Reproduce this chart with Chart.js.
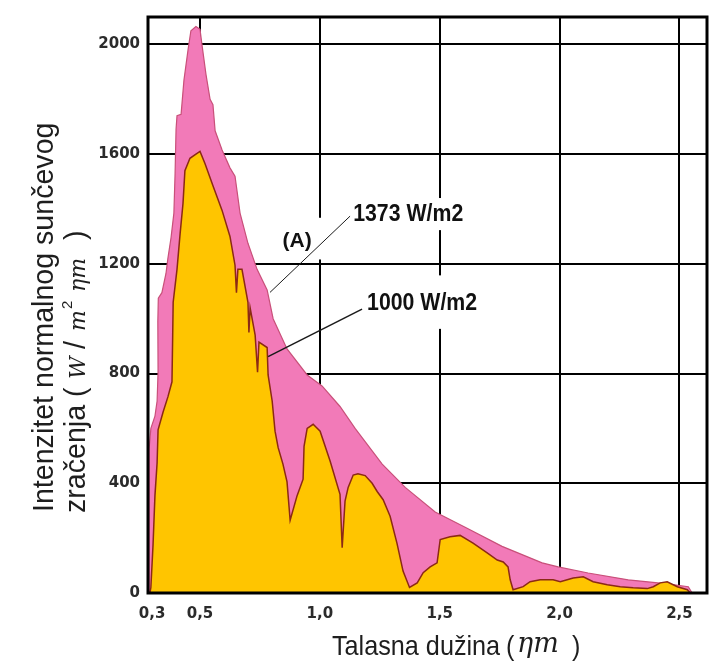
<!DOCTYPE html>
<html>
<head>
<meta charset="utf-8">
<script src="https://cdn.jsdelivr.net/npm/chart.js@4.4.1/dist/chart.umd.min.js"></script>
<style>
  html, body { margin: 0; padding: 0; background: #ffffff; }
  canvas { display: block; }
</style>
</head>
<body>
<canvas id="c" width="711" height="661"></canvas>
<script>
// ---- tick values / labels ----
const xTicks = [0.3, 0.5, 1.0, 1.5, 2.0, 2.5];
const xTickLabels = ['0,3', '0,5', '1,0', '1,5', '2,0', '2,5'];
const yTicks = [0, 400, 800, 1200, 1600, 2000];

// ---- series: extraterrestrial spectrum (1373 W/m2) ----
const extraX = [0.283, 0.287, 0.295, 0.312, 0.321, 0.325, 0.324, 0.326, 0.341, 0.358, 0.366, 0.379, 0.391, 0.396, 0.400, 0.404, 0.421, 0.433, 0.450, 0.462, 0.483, 0.500,
  0.508, 0.525, 0.542, 0.554, 0.563, 0.592, 0.625, 0.646, 0.667, 0.700, 0.738, 0.780, 0.805, 0.863, 0.947, 1.009, 1.084, 1.147, 1.260, 1.356, 1.481, 1.606, 1.760, 1.927, 1.994, 2.119, 2.286, 2.441, 2.537, 2.553];
const extraY = [0, 520, 600, 645, 700, 805, 990, 1075, 1095, 1165, 1220, 1295, 1385, 1530, 1690, 1740, 1745, 1870, 1980, 2050, 2065, 2055,
  2000, 1890, 1800, 1780, 1685, 1615, 1550, 1520, 1385, 1275, 1180, 1105, 1000, 890, 795, 755, 680, 600, 470, 385, 295, 240, 170, 110, 95, 73, 48, 34, 23, 0];

// ---- series: surface spectrum (1000 W/m2) ----
const surfX = [0.291, 0.295, 0.304, 0.312, 0.321, 0.325, 0.346, 0.366, 0.383, 0.386, 0.388, 0.404, 0.417, 0.429, 0.437, 0.458, 0.483, 0.500,
  0.521, 0.554, 0.592, 0.625, 0.646, 0.652, 0.658, 0.675, 0.700, 0.704, 0.709, 0.730, 0.740, 0.746, 0.780, 0.784, 0.801, 0.813, 0.826, 0.846, 0.863, 0.876,
  0.905, 0.930, 0.934, 0.947, 0.972, 1.001, 1.043, 1.084, 1.093, 1.105, 1.118, 1.139, 1.159, 1.189, 1.218, 1.239, 1.264, 1.293, 1.322, 1.347, 1.374,
  1.406, 1.431, 1.460, 1.489, 1.502, 1.543, 1.585, 1.639, 1.698, 1.740, 1.765, 1.785, 1.794, 1.806, 1.848, 1.877, 1.919, 1.973, 2.003, 2.057, 2.099,
  2.140, 2.199, 2.253, 2.307, 2.366, 2.391, 2.420, 2.449, 2.491, 2.533, 2.545];
const surfY = [0, 20, 175, 355, 475, 595, 660, 715, 770, 940, 1060, 1180, 1310, 1420, 1540, 1585, 1600, 1610,
  1565, 1485, 1395, 1300, 1195, 1095, 1180, 1180, 1060, 950, 1040, 940, 805, 915, 895, 795, 700, 590, 530, 470, 405, 265,
  355, 415, 535, 600, 615, 590, 480, 360, 165, 335, 385, 430, 435, 428, 400, 370, 340, 280, 180, 80, 20,
  37, 74, 95, 110, 195, 205, 210, 182, 146, 120, 113, 95, 48, 12, 23, 41, 48, 48, 41, 55, 59,
  41, 30, 23, 19, 16, 23, 37, 41, 23, 12, 0];

const seriesLabels = ['1373 W/m2', '1000 W/m2'];

const toPoints = (xs, ys) => xs.map((v, i) => ({ x: v, y: ys[i] }));

// annotation anchors (data coordinates)
const notes = {
  boxes: [[1.126, 1.618, 1323, 1440], [1.184, 1.673, 963, 1158], [0.826, 1.026, 1216, 1368]],
  leaders: [[0.792, 1096, 1.126, 1374], [0.784, 862, 1.176, 1035]],
  label1373: [1.139, 1356],
  label1000: [1.197, 1031],
  labelA: [0.905, 1262]
};

function drawScaled(ctx, text, x, y, font, sx) {
  ctx.save();
  ctx.font = font;
  ctx.translate(x, y);
  ctx.scale(sx, 1);
  ctx.fillText(text, 0, 0);
  ctx.restore();
}

const decor = {
  id: 'decor',
  afterDraw(chart) {
    const { ctx, chartArea: ca, scales } = chart;
    const px = v => scales.x.getPixelForValue(v);
    const py = v => scales.y.getPixelForValue(v);
    ctx.save();
    // white label boxes
    ctx.fillStyle = '#ffffff';
    notes.boxes.forEach(b => {
      ctx.fillRect(px(b[0]), py(b[3]), px(b[1]) - px(b[0]), py(b[2]) - py(b[3]));
    });
    // leader lines
    ctx.strokeStyle = '#1a1a1a';
    notes.leaders.forEach((l, i) => {
      ctx.lineWidth = i === 0 ? 1 : 1.5;
      ctx.beginPath();
      ctx.moveTo(px(l[0]), py(l[1]));
      ctx.lineTo(px(l[2]), py(l[3]));
      ctx.stroke();
    });
    // labels
    ctx.fillStyle = '#111';
    ctx.textBaseline = 'alphabetic';
    ctx.textAlign = 'left';
    drawScaled(ctx, seriesLabels[0], px(notes.label1373[0]), py(notes.label1373[1]), "bold 24px 'Liberation Sans'", 0.887);
    drawScaled(ctx, seriesLabels[1], px(notes.label1000[0]), py(notes.label1000[1]), "bold 24px 'Liberation Sans'", 0.887);
    ctx.textAlign = 'center';
    drawScaled(ctx, '(A)', px(notes.labelA[0]), py(notes.labelA[1]), "bold 21px 'Liberation Sans'", 1);

    // frame
    ctx.strokeStyle = '#000';
    ctx.lineWidth = 3;
    ctx.strokeRect(ca.left, ca.top, ca.right - ca.left, ca.bottom - ca.top);

    // axis titles
    ctx.fillStyle = '#1e1e1e';
    ctx.textAlign = 'left';
    const sans = "28.6px 'Liberation Sans'";
    const ital = "italic 22px 'DejaVu Serif'";
    // y title, line 1
    ctx.save();
    ctx.translate(53, 512);
    ctx.rotate(-Math.PI / 2);
    ctx.font = sans;
    ctx.fillText('Intenzitet normalnog sunčevog', 0, 0);
    ctx.restore();
    // y title, line 2
    ctx.save();
    ctx.translate(85, 513);
    ctx.rotate(-Math.PI / 2);
    ctx.font = sans; ctx.fillText('zračenja (', 0, 0);
    ctx.font = ital; ctx.fillText('W', 134, 0);
    ctx.font = sans; ctx.fillText('/', 164, 0);
    ctx.font = ital; ctx.fillText('m', 182, 0);
    ctx.font = "15px 'Liberation Sans'"; ctx.fillText('2', 204, -13);
    ctx.font = ital; ctx.fillText('ηm', 221, 0);
    ctx.font = sans; ctx.fillText(')', 273, 0);
    ctx.restore();
    // x title
    drawScaled(ctx, 'Talasna dužina', 332, 655, "28px 'Liberation Sans'", 0.9);
    drawScaled(ctx, '(', 506, 655, "28px 'Liberation Sans'", 0.9);
    ctx.font = "italic 27px 'DejaVu Serif'"; ctx.fillText('ηm', 517, 652);
    drawScaled(ctx, ')', 572, 655, "28px 'Liberation Sans'", 0.9);
    ctx.restore();
  }
};

new Chart(document.getElementById('c'), {
  type: 'line',
  data: {
    datasets: [
      {
        label: seriesLabels[1],
        data: toPoints(surfX, surfY),
        order: 0,
        fill: 'origin',
        backgroundColor: '#FFC500',
        borderColor: '#8B2A14',
        borderWidth: 1.5,
        pointRadius: 0,
        tension: 0
      },
      {
        label: seriesLabels[0],
        data: toPoints(extraX, extraY),
        order: 1,
        fill: 'origin',
        backgroundColor: '#F27AB8',
        borderColor: '#C9507A',
        borderWidth: 1.2,
        pointRadius: 0,
        tension: 0
      }
    ]
  },
  options: {
    responsive: false,
    animation: false,
    devicePixelRatio: 1,
    layout: { padding: { top: 12, right: 4, left: 0, bottom: 0 } },
    plugins: { legend: { display: false }, tooltip: { enabled: false } },
    scales: {
      x: {
        type: 'linear',
        min: 0.283,
        max: 2.615,
        z: 1,
        afterBuildTicks: s => { s.ticks = xTicks.map(v => ({ value: v })); },
        afterFit: s => { s.height = 68; },
        border: { display: false },
        grid: {
          drawTicks: false,
          lineWidth: 2,
          color: c => (c.tick && c.tick.value === 0.3) ? 'rgba(0,0,0,0)' : '#000'
        },
        ticks: {
          autoSkip: false,
          maxRotation: 0,
          padding: 12,
          color: '#2b2b2b',
          font: { family: "'DejaVu Sans'", weight: 'bold', size: 15 },
          callback: v => xTickLabels[xTicks.indexOf(v)]
        }
      },
      y: {
        min: 0,
        max: 2100,
        z: 1,
        afterBuildTicks: s => { s.ticks = yTicks.map(v => ({ value: v })); },
        afterFit: s => { s.width = 148; },
        border: { display: false },
        grid: { drawTicks: false, lineWidth: 2, color: '#000' },
        ticks: {
          padding: 8,
          color: '#2b2b2b',
          font: { family: "'DejaVu Sans'", weight: 'bold', size: 15 },
          callback: v => String(v)
        }
      }
    }
  },
  plugins: [decor]
});
</script>
</body>
</html>
